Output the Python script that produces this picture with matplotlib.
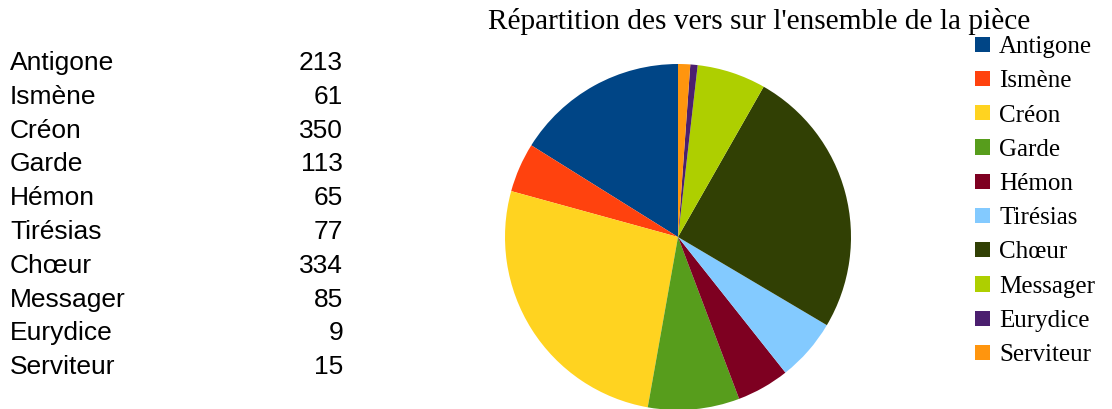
import matplotlib
matplotlib.use("Agg")
import matplotlib.pyplot as plt
from matplotlib.patches import Patch

# data
roles = ["Antigone", "Ismène", "Créon", "Garde", "Hémon", "Tirésias",
         "Chœur", "Messager", "Eurydice", "Serviteur"]
vers = [213, 61, 350, 113, 65, 77, 334, 85, 9, 15]
colors = ["#004586", "#ff420e", "#ffd320", "#579d1c", "#7e0021",
          "#83caff", "#314004", "#aecf00", "#4b1f6f", "#ff950e"]

W, H = 1112, 409
fig = plt.figure(figsize=(W/100, H/100), dpi=100)

# table on the left
row0 = 63
step = 33.8
for i, (r, v) in enumerate(zip(roles, vers)):
    y = 1 - (row0 + i*step)/H
    fig.text(10/W, y, r, ha="left", va="center", fontsize=19,
             family="Liberation Sans")
    fig.text(343/W, y, str(v), ha="right", va="center", fontsize=19,
             family="Liberation Sans")

# pie
cx, cy, rad = 678, 237, 173
ax = fig.add_axes([(cx-rad)/W, (H-cy-rad)/H, 2*rad/W, 2*rad/H])
ax.pie(vers, colors=colors, startangle=90, counterclock=True,
       wedgeprops=dict(linewidth=0))
ax.set_aspect("equal")
ax.set_xlim(-1, 1)
ax.set_ylim(-1, 1)

fig.text(759/W, 1 - 29/H, "Répartition des vers sur l'ensemble de la pièce",
         ha="center", va="baseline", fontsize=21.2, family="Liberation Serif")

handles = [Patch(facecolor=c, edgecolor="none") for c in colors]
leg = fig.legend(handles, roles, loc="upper left",
                 bbox_to_anchor=(975/W, 1 - 36/H), frameon=False,
                 prop=dict(family="Liberation Serif", size=18),
                 handlelength=0.6, handleheight=0.56, handletextpad=0.36,
                 labelspacing=0.49, borderpad=0, borderaxespad=0)

fig.savefig("out.png", dpi=100)
